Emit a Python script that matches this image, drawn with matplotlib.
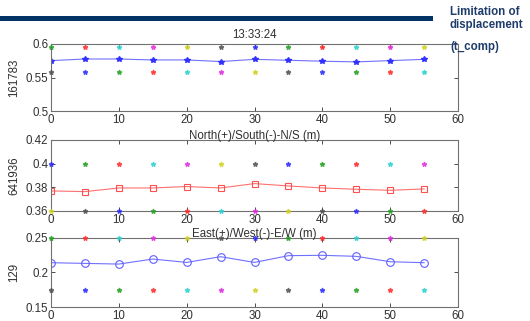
import numpy as np
import matplotlib.pyplot as plt
from matplotlib.patches import Rectangle

plt.rcParams['font.family'] = ['Liberation Sans', 'DejaVu Sans']

# 采样位置
x = [0, 5, 10, 15, 20, 25, 30, 35, 40, 45, 50, 55]

# 三个分量的测量值
top_vals = [0.5752, 0.5776, 0.5776, 0.5762, 0.5762, 0.5738, 0.5771, 0.5757, 0.5743, 0.5733, 0.5752, 0.5771]
ns_vals = [0.3769, 0.3763, 0.3794, 0.3794, 0.3806, 0.3794, 0.3831, 0.3811, 0.3794, 0.3783, 0.3774, 0.3786]
ew_vals = [0.2142, 0.2132, 0.2122, 0.2195, 0.2146, 0.2229, 0.2146, 0.2244, 0.2249, 0.2234, 0.2156, 0.2142]

# 参考点的上下位置
top_marks = [0.595, 0.558]
ns_marks = [0.40, 0.36]
ew_marks = [0.25, 0.174]

# 颜色顺序 (MATLAB 风格)
cyc = ['b', 'g', 'r', 'c', 'm', 'y', 'k']
top_start = [1, 6]
ns_start = [0, 5]
ew_start = [1, 6]

title = '13:33:24'
ylabels = ['161783', '641936', '129']
titles_ns = 'North(+)/South(-)-N/S (m)'
titles_ew = 'East(+)/West(-)-E/W (m)'

colmap = {'b': '#2a2aff', 'g': '#22a022', 'r': '#ff2a2a', 'c': '#2ad0d0',
          'm': '#e02ae0', 'y': '#d0d020', 'k': '#505050'}

fs = 8.3

fig = plt.figure(figsize=(5.3, 3.21), dpi=100)
fig.patch.set_facecolor('white')

left, width = 0.0962, 0.768
ax1 = fig.add_axes([left, 0.654, width, 0.209])
ax2 = fig.add_axes([left, 0.343, width, 0.221])
ax3 = fig.add_axes([left, 0.0436, width, 0.215])

def style(ax, ylim, yticks, ylab):
    ax.set_xlim(0, 60)
    ax.set_ylim(*ylim)
    ax.set_xticks(range(0, 61, 10))
    ax.set_yticks(yticks)
    ax.set_yticklabels([('%g' % v) for v in yticks])
    ax.tick_params(direction='in', length=3, width=0.6, colors='#303030',
                   labelsize=fs, top=True, right=True, pad=2)
    for s in ax.spines.values():
        s.set_color('#707070')
        s.set_linewidth(0.8)
    ax.set_ylabel(ylab, fontsize=fs, color='#303030', labelpad=1)
    ax.yaxis.set_label_coords(-0.075, 0.5)

def dots(ax, marks, starts):
    for lvl, st in zip(marks, starts):
        for i, xv in enumerate(x):
            c = colmap[cyc[(st + i) % 7]]
            ax.plot(xv, lvl, marker='*', ms=3.5, color=c, alpha=0.75, clip_on=False, zorder=3)

style(ax1, (0.5, 0.6), [0.5, 0.55, 0.6], ylabels[0])
dots(ax1, top_marks, top_start)
ax1.plot(x, top_vals, color='#7070ff', lw=0.8, marker='*', ms=4, mfc='#3030ff', mec='#3030ff')
ax1.set_title(title, fontsize=fs, color='#303030', pad=4)

style(ax2, (0.36, 0.42), [0.36, 0.38, 0.4, 0.42], ylabels[1])
dots(ax2, ns_marks, ns_start)
ax2.plot(x, ns_vals, color='#ff7070', lw=0.8, marker='s', ms=5, mfc='none', mec='#ff5050', mew=0.8)
ax2.set_title(titles_ns, fontsize=fs, color='#303030', pad=1)

style(ax3, (0.15, 0.25), [0.15, 0.2, 0.25], ylabels[2])
dots(ax3, ew_marks, ew_start)
ax3.plot(x, ew_vals, color='#7070ff', lw=0.8, marker='o', ms=5.5, mfc='none', mec='#6060ff', mew=0.8)
ax3.set_title(titles_ew, fontsize=fs, color='#303030', pad=1)

# 顶部横条和说明文字
fig.add_artist(Rectangle((0, 0.935), 0.817, 0.016, transform=fig.transFigure,
                         color='#003366', lw=0))
navy = '#1f3d6b'
hfs = 8.3
fig.text(0.849, 0.963, 'Limitation of', fontsize=hfs, fontweight='bold', color=navy, va='center')
fig.text(0.849, 0.922, 'displacement', fontsize=hfs, fontweight='bold', color=navy, va='center')
fig.text(0.849, 0.854, '(t_comp)', fontsize=hfs, fontweight='bold', color=navy, va='center')

fig.savefig('out.png', dpi=100)
